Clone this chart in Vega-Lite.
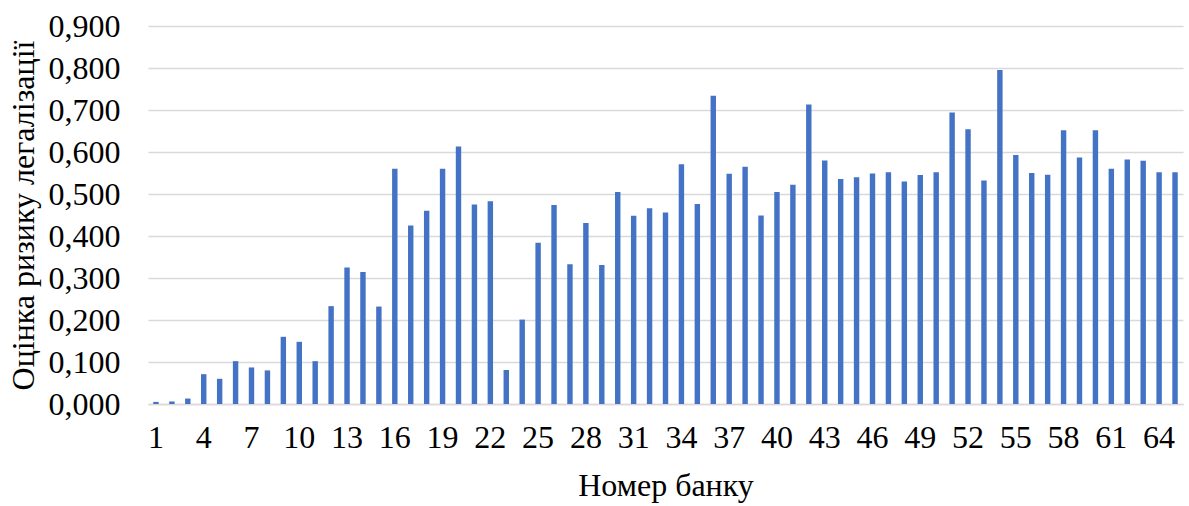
{
  "$schema": "https://vega.github.io/schema/vega-lite/v6.json",
  "width": 1035,
  "height": 378,
  "autosize": {"type": "none"},
  "padding": {"left": 148, "top": 26, "right": 6, "bottom": 102},
  "background": "white",
  "config": {
    "view": {"stroke": null},
    "font": "Liberation Serif"
  },
  "data": {
    "values": [
      {"bank": 1, "risk": 0.005}, {"bank": 2, "risk": 0.006}, {"bank": 3, "risk": 0.013},
      {"bank": 4, "risk": 0.071}, {"bank": 5, "risk": 0.060}, {"bank": 6, "risk": 0.102},
      {"bank": 7, "risk": 0.087}, {"bank": 8, "risk": 0.080}, {"bank": 9, "risk": 0.160},
      {"bank": 10, "risk": 0.148}, {"bank": 11, "risk": 0.102}, {"bank": 12, "risk": 0.233},
      {"bank": 13, "risk": 0.325}, {"bank": 14, "risk": 0.314}, {"bank": 15, "risk": 0.232},
      {"bank": 16, "risk": 0.560}, {"bank": 17, "risk": 0.425}, {"bank": 18, "risk": 0.460},
      {"bank": 19, "risk": 0.560}, {"bank": 20, "risk": 0.613}, {"bank": 21, "risk": 0.475},
      {"bank": 22, "risk": 0.483}, {"bank": 23, "risk": 0.081}, {"bank": 24, "risk": 0.201},
      {"bank": 25, "risk": 0.384}, {"bank": 26, "risk": 0.474}, {"bank": 27, "risk": 0.333},
      {"bank": 28, "risk": 0.431}, {"bank": 29, "risk": 0.331}, {"bank": 30, "risk": 0.505},
      {"bank": 31, "risk": 0.448}, {"bank": 32, "risk": 0.466}, {"bank": 33, "risk": 0.456},
      {"bank": 34, "risk": 0.571}, {"bank": 35, "risk": 0.476}, {"bank": 36, "risk": 0.734},
      {"bank": 37, "risk": 0.548}, {"bank": 38, "risk": 0.565}, {"bank": 39, "risk": 0.449},
      {"bank": 40, "risk": 0.505}, {"bank": 41, "risk": 0.522}, {"bank": 42, "risk": 0.713},
      {"bank": 43, "risk": 0.580}, {"bank": 44, "risk": 0.536}, {"bank": 45, "risk": 0.540},
      {"bank": 46, "risk": 0.549}, {"bank": 47, "risk": 0.552}, {"bank": 48, "risk": 0.530},
      {"bank": 49, "risk": 0.545}, {"bank": 50, "risk": 0.552}, {"bank": 51, "risk": 0.694},
      {"bank": 52, "risk": 0.654}, {"bank": 53, "risk": 0.532}, {"bank": 54, "risk": 0.795},
      {"bank": 55, "risk": 0.593}, {"bank": 56, "risk": 0.550}, {"bank": 57, "risk": 0.546},
      {"bank": 58, "risk": 0.652}, {"bank": 59, "risk": 0.587}, {"bank": 60, "risk": 0.652},
      {"bank": 61, "risk": 0.560}, {"bank": 62, "risk": 0.582}, {"bank": 63, "risk": 0.579},
      {"bank": 64, "risk": 0.552}, {"bank": 65, "risk": 0.552}
    ]
  },
  "mark": {"type": "bar", "color": "#4472C4"},
  "encoding": {
    "x": {
      "field": "bank",
      "type": "ordinal",
      "sort": "ascending",
      "scale": {"paddingInner": 0.66, "paddingOuter": 0.33},
      "axis": {
        "title": "Номер банку",
        "values": [1, 4, 7, 10, 13, 16, 19, 22, 25, 28, 31, 34, 37, 40, 43, 46, 49, 52, 55, 58, 61, 64],
        "labelAngle": 0,
        "labelFontSize": 32,
        "labelColor": "#000000",
        "labelPadding": 18,
        "labelFont": "Liberation Serif",
        "ticks": false,
        "domainColor": "#d9d9d9",
        "domainWidth": 1.5,
        "titleFontSize": 32,
        "titleFontWeight": "normal",
        "titleColor": "#000000",
        "titleFont": "Liberation Serif",
        "titlePadding": 17
      }
    },
    "y": {
      "field": "risk",
      "type": "quantitative",
      "scale": {"domain": [0, 0.9], "nice": false},
      "axis": {
        "title": "Оцінка ризику легалізації",
        "values": [0, 0.1, 0.2, 0.3, 0.4, 0.5, 0.6, 0.7, 0.8, 0.9],
        "labelExpr": "replace(format(datum.value, '.3f'), '.', ',')",
        "labelFontSize": 32,
        "labelColor": "#000000",
        "labelPadding": 28,
        "labelFont": "Liberation Serif",
        "ticks": false,
        "domain": false,
        "grid": true,
        "gridColor": "#d9d9d9",
        "gridWidth": 1.5,
        "titleFontSize": 32,
        "titleFontWeight": "normal",
        "titleColor": "#000000",
        "titleFont": "Liberation Serif",
        "titlePadding": 8
      }
    }
  }
}
